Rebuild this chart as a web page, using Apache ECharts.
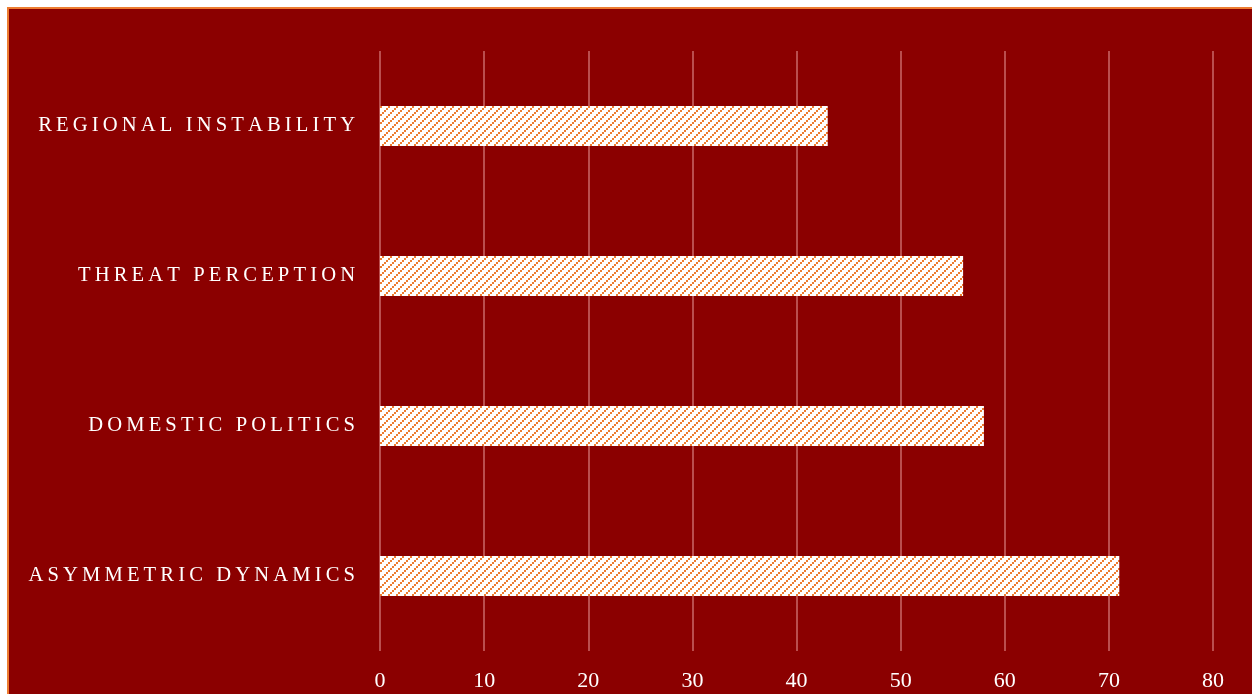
<!DOCTYPE html>
<html>
<head>
<meta charset="utf-8">
<script src="https://cdn.jsdelivr.net/npm/echarts@6/dist/echarts.min.js"></script>
<style>
  html, body { margin: 0; padding: 0; background: #ffffff; }
  #chart { width: 1252px; height: 694px; }
</style>
</head>
<body>
<div id="chart"></div>
<script>
// categories listed top to bottom
const categories = ['Regional Instability', 'Threat Perception', 'Domestic Politics', 'Asymmetric Dynamics'];
const values = [43, 56, 58, 71];
const xTicks = [0, 10, 20, 30, 40, 50, 60, 70, 80];

// hatch tile for the bars: white with orange upward diagonal dots
function makeHatch() {
  const c = document.createElement('canvas');
  c.width = 8;
  c.height = 8;
  const ctx = c.getContext('2d');
  ctx.fillStyle = '#ffffff';
  ctx.fillRect(0, 0, 8, 8);
  ctx.fillStyle = '#ED7D31';
  for (let i = 0; i < 4; i++) {
    ctx.fillRect(i * 2, 6 - i * 2, 2, 2);
  }
  return c;
}

// spread letters out a bit, like the original's expanded caps
function spaced(s) {
  return s.toUpperCase().split('').join('\u2009');
}

const chart = echarts.init(document.getElementById('chart'));

const option = {
  backgroundColor: '#ffffff',
  animation: false,
  graphic: [
    {
      type: 'rect',
      z: -10,
      silent: true,
      shape: { x: 7, y: 7, width: 1260, height: 700 },
      style: { fill: '#ED7D31' }
    },
    {
      type: 'rect',
      z: -9,
      silent: true,
      shape: { x: 9, y: 9, width: 1260, height: 700 },
      style: { fill: '#8B0000' }
    }
  ],
  grid: { left: 380, right: 39, top: 51, bottom: 43, containLabel: false },
  xAxis: {
    type: 'value',
    min: xTicks[0],
    max: xTicks[xTicks.length - 1],
    interval: 10,
    axisLine: { show: false },
    axisTick: { show: false },
    splitLine: { show: true, lineStyle: { color: 'rgba(255, 190, 190, 0.55)', width: 1.5 } },
    axisLabel: {
      color: '#ffffff',
      fontFamily: '"Liberation Serif", "Times New Roman", serif',
      fontSize: 22,
      margin: 19
    }
  },
  yAxis: {
    type: 'category',
    inverse: true,
    data: categories,
    axisLine: { show: false },
    axisTick: { show: false },
    axisLabel: {
      color: '#ffffff',
      fontFamily: '"Liberation Serif", "Times New Roman", serif',
      fontSize: 20.6,
      margin: 25,
      lineHeight: 24,
      padding: [5, 0, 0, 0],
      formatter: (v) => spaced(v)
    }
  },
  series: [
    {
      type: 'bar',
      data: values,
      barWidth: 40,
      itemStyle: {
        color: { image: makeHatch(), repeat: 'repeat' }
      }
    }
  ]
};

chart.setOption(option);
</script>
</body>
</html>
